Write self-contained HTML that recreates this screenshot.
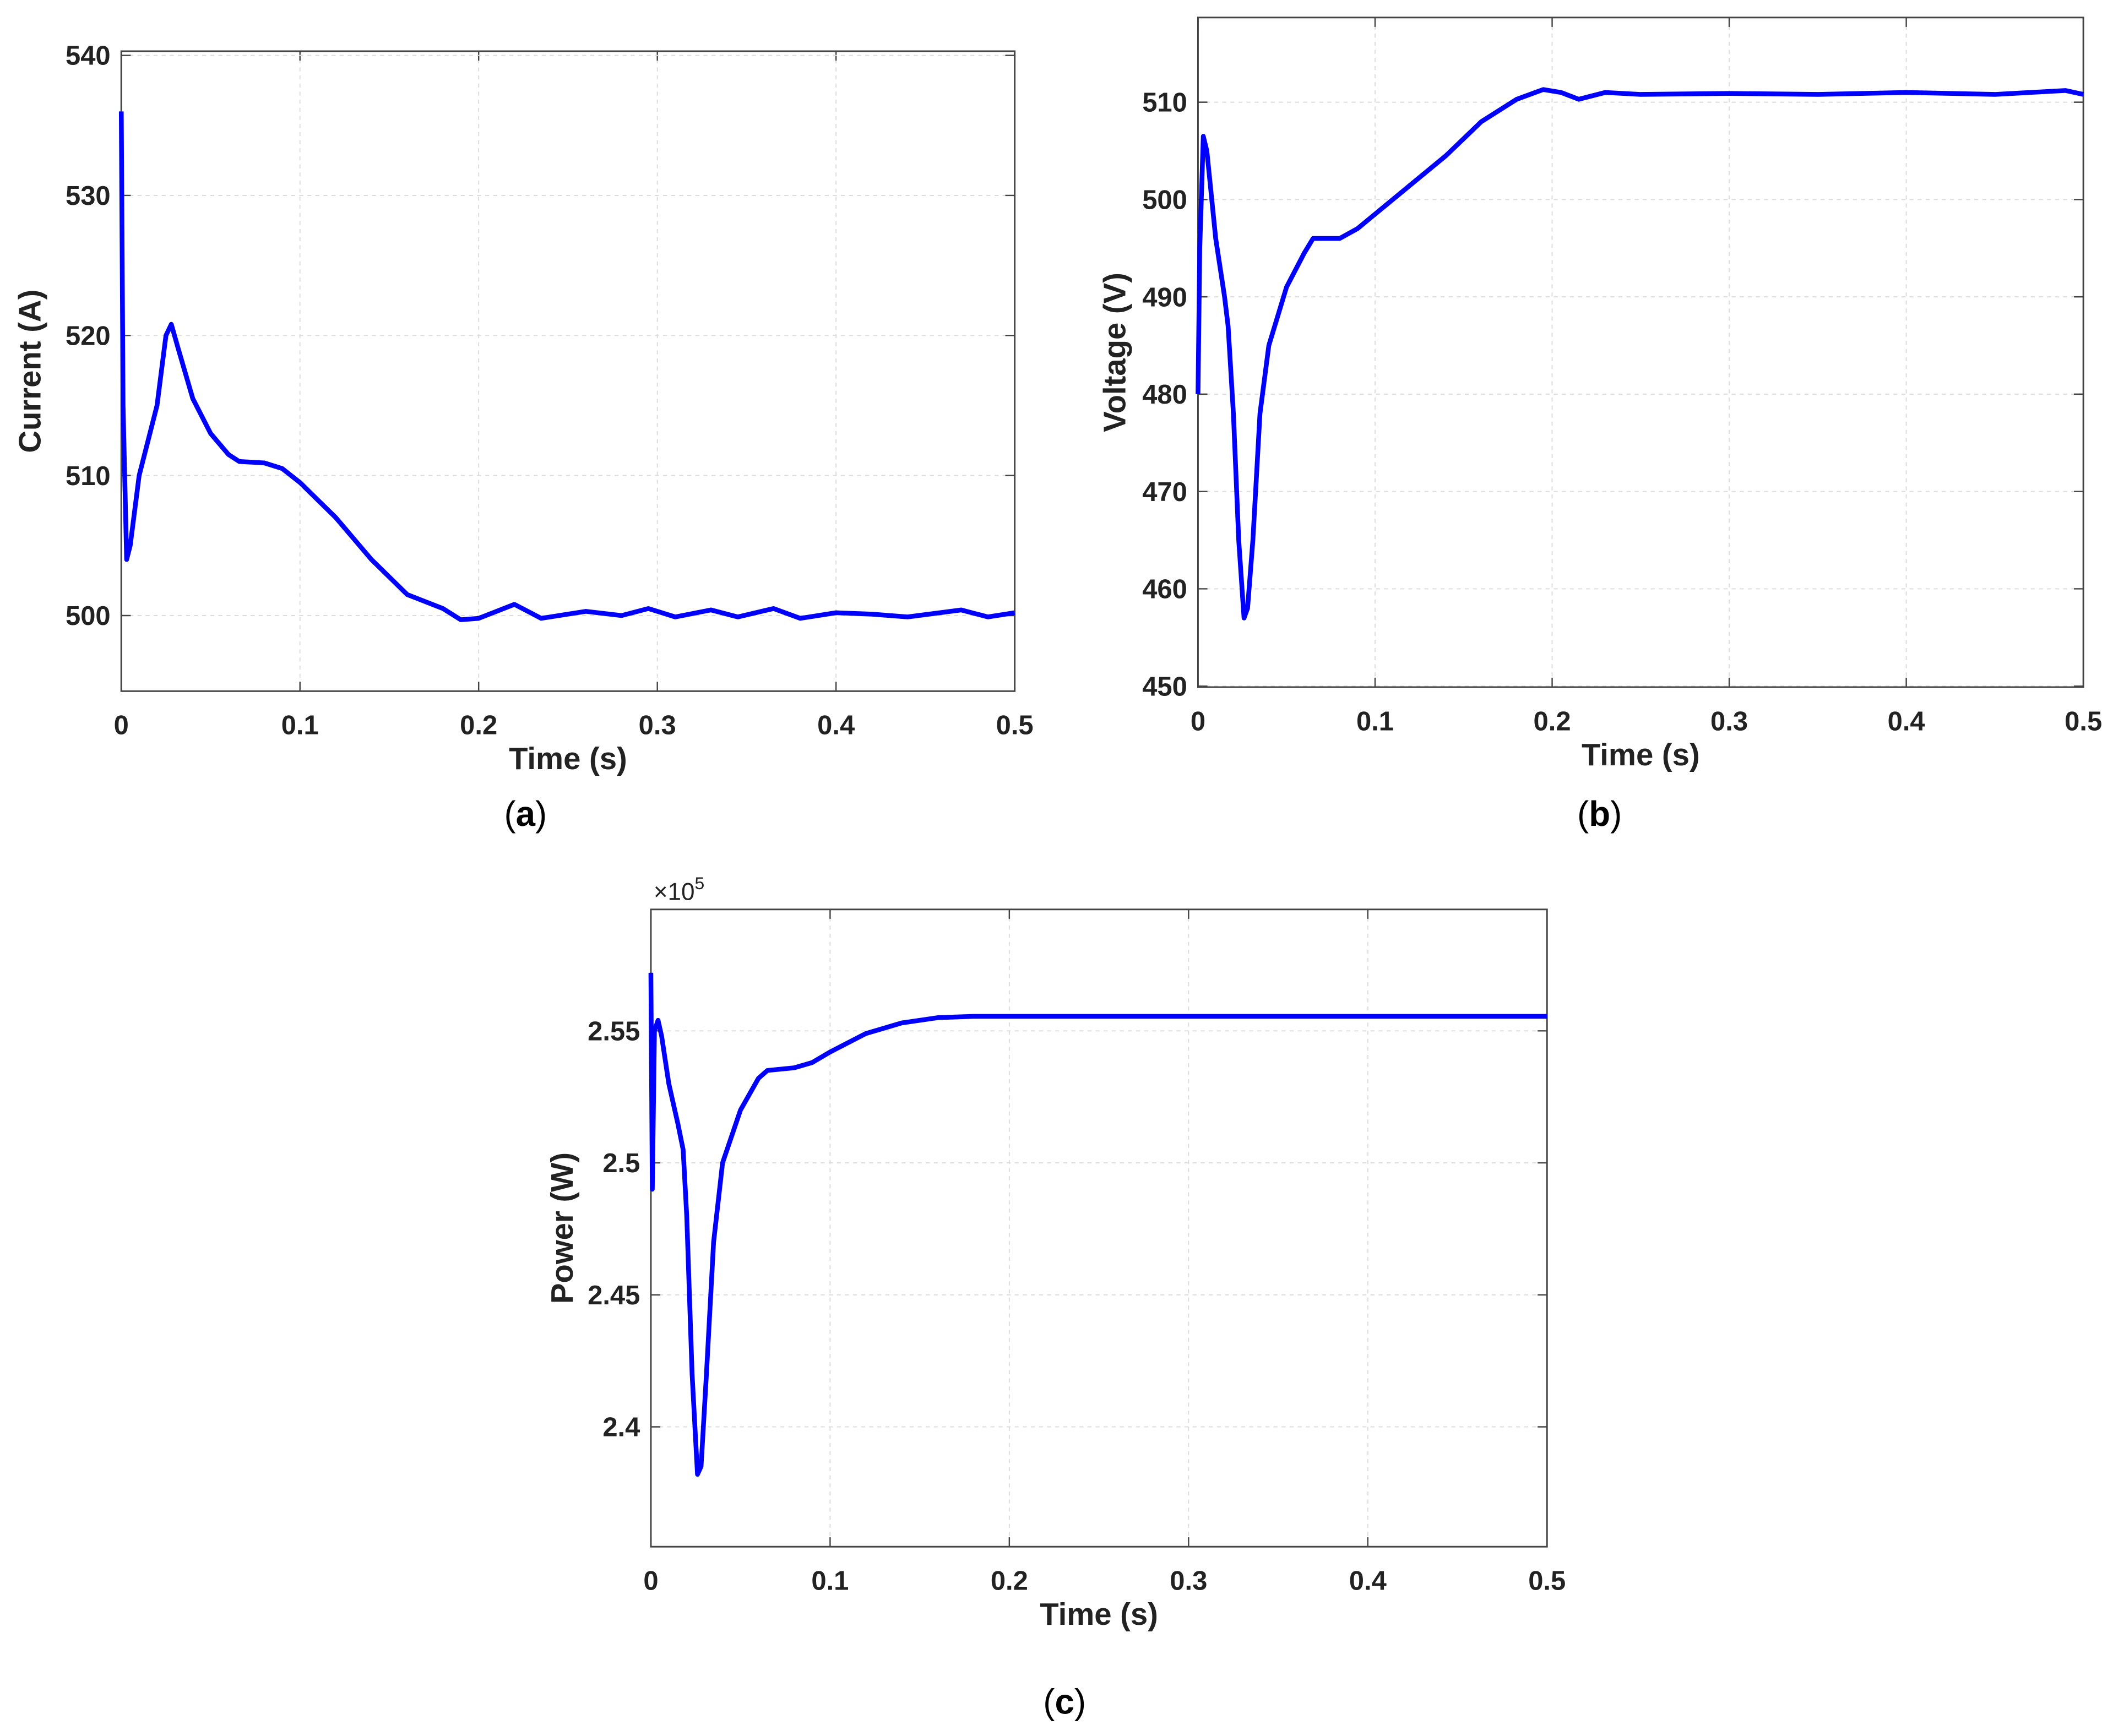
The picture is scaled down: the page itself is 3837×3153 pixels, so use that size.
<!DOCTYPE html>
<html><head><meta charset="utf-8"><style>
html,body{margin:0;padding:0;background:#fff;}
svg{display:block;}
text{font-family:"Liberation Sans",sans-serif;}
</style></head>
<body>
<svg id="fig" width="3837" height="3153" viewBox="0 0 1568 1288.5" preserveAspectRatio="none" xmlns="http://www.w3.org/2000/svg"></svg>
<script>
// Panel (a) current
const tA = [0,0.001,0.003,0.005,0.01,0.018,0.02,0.025,0.028,0.032,0.04,0.05,0.06,0.066,0.08,0.09,0.1,0.12,0.14,0.16,0.18,0.19,0.2,0.21,0.22,0.235,0.26,0.28,0.295,0.31,0.33,0.345,0.365,0.38,0.4,0.42,0.44,0.47,0.485,0.5];
const vA = [536,515,504,505,510,514,515,520,520.8,519,515.5,513,511.5,511,510.9,510.5,509.5,507,504,501.5,500.5,499.7,499.8,500.3,500.8,499.8,500.3,500,500.5,499.9,500.4,499.9,500.5,499.8,500.2,500.1,499.9,500.4,499.9,500.2];
// Panel (b) voltage
const tB = [0,0.001,0.003,0.005,0.01,0.015,0.017,0.02,0.023,0.026,0.028,0.031,0.035,0.04,0.05,0.06,0.065,0.07,0.08,0.09,0.1,0.12,0.14,0.16,0.18,0.195,0.205,0.215,0.23,0.25,0.3,0.35,0.4,0.45,0.49,0.5];
const vB = [480,495,506.5,505,496,490,487,478,465,457,458,465,478,485,491,494.5,496,496,496,497,498.5,501.5,504.5,508,510.3,511.3,511,510.3,511,510.8,510.9,510.8,511,510.8,511.2,510.8];
// Panel (c) power (x1e5)
const tC = [0,0.0008,0.002,0.004,0.006,0.01,0.015,0.018,0.02,0.023,0.026,0.028,0.031,0.035,0.04,0.05,0.06,0.065,0.08,0.09,0.1,0.12,0.14,0.16,0.18,0.5];
const vC = [2.572,2.49,2.55,2.554,2.548,2.53,2.515,2.505,2.48,2.42,2.382,2.385,2.42,2.47,2.50,2.52,2.532,2.535,2.536,2.538,2.542,2.549,2.553,2.555,2.5555,2.5555];
const xTicks = [0,0.1,0.2,0.3,0.4,0.5];
const xTickLabels = ["0","0.1","0.2","0.3","0.4","0.5"];
const yTicksA = [500,510,520,530,540];
const yTicksB = [450,460,470,480,490,500,510];
const yTicksC = [2.4,2.45,2.5,2.55];
const yTickLabelsC = ["2.4","2.45","2.5","2.55"];

const svg = document.getElementById('fig');
const NS = 'http://www.w3.org/2000/svg';
function mk(tag, attrs, parent){const e=document.createElementNS(NS,tag);for(const k in attrs)e.setAttribute(k,attrs[k]);(parent||svg).appendChild(e);return e;}

function panel(o){
  const g = mk('g',{});
  
  
  const X = t => o.l + (t-0)/(0.5)*(o.r-o.l);
  const Y = v => o.b - (v-o.ymin)/(o.ymax-o.ymin)*(o.b-o.t);
  // grid
  xTicks.forEach((t,i)=>{
    if(i>0 && i<xTicks.length-1){const gl=mk('line',{x1:X(t),x2:X(t),y1:o.t,y2:o.b,stroke:'#dcdcdc','stroke-width':0.8,'stroke-dasharray':'3,3'},g);
    }
    mk('line',{x1:X(t),x2:X(t),y1:o.b,y2:o.b-7,stroke:'#444','stroke-width':1},g);
    mk('line',{x1:X(t),x2:X(t),y1:o.t,y2:o.t+7,stroke:'#444','stroke-width':1},g);
    const tx=mk('text',{x:X(t),y:o.b+32,'text-anchor':'middle','font-size':20,'font-weight':'bold',fill:'#222'},g);
    tx.textContent=xTickLabels[i];
    
  });
  o.yt.forEach((v,i)=>{
    const gl=mk('line',{x1:o.l,x2:o.r,y1:Y(v),y2:Y(v),stroke:'#dcdcdc','stroke-width':0.8,'stroke-dasharray':'3,3'},g);
    
    mk('line',{x1:o.l,x2:o.l+7,y1:Y(v),y2:Y(v),stroke:'#444','stroke-width':1},g);
    mk('line',{x1:o.r,x2:o.r-7,y1:Y(v),y2:Y(v),stroke:'#444','stroke-width':1},g);
    const tx=mk('text',{x:o.l-8,y:Y(v)+7,'text-anchor':'end','font-size':20,'font-weight':'bold',fill:'#222'},g);
    tx.textContent=o.ytl?o.ytl[i]:String(v);
    
  });
  const fr=mk('rect',{x:o.l,y:o.t,width:o.r-o.l,height:o.b-o.t,fill:'none',stroke:'#444','stroke-width':1.2},g);
  
  const d=o.tx.map((t,i)=>(i?'L':'M')+X(t).toFixed(2)+','+Y(o.vy[i]).toFixed(2)).join(' ');
  const p=mk('path',{d:d,fill:'none',stroke:'#0000ff','stroke-width':3.5,'stroke-linejoin':'round'},g);
  
  const xl=mk('text',{x:(o.l+o.r)/2,y:o.b+58,'text-anchor':'middle','font-size':23,'font-weight':'bold',fill:'#222'},g);
  xl.textContent='Time (s)';
  
  const yl=mk('text',{x:0,y:0,transform:`translate(${o.ylx},${(o.t+o.b)/2}) rotate(-90)`,'text-anchor':'middle','font-size':23,'font-weight':'bold',fill:'#222'},g);
  yl.textContent=o.ylabel;
  
  const cap=mk('text',{x:o.capx,y:o.capy,'text-anchor':'middle','font-size':26,fill:'#000','font-family':'Liberation Serif, serif'},g);
  cap.innerHTML='(<tspan font-weight="bold">'+o.cap+'</tspan>)';
  
  return {g,X,Y};
}
panel({name:'current-panel',l:90,r:753,t:38,b:513,ymin:494.6,ymax:540.3,yt:yTicksA,tx:tA,vy:vA,ylabel:'Current (A)',ylx:30,cap:'a',capx:390,capy:613});
panel({name:'voltage-panel',l:889,r:1546,t:13,b:510,ymin:449.9,ymax:518.7,yt:yTicksB,tx:tB,vy:vB,ylabel:'Voltage (V)',ylx:835,cap:'b',capx:1187,capy:613});
const pc=panel({name:'power-panel',l:483,r:1148,t:675,b:1148,ymin:2.3546,ymax:2.596,yt:yTicksC,ytl:yTickLabelsC,tx:tC,vy:vC,ylabel:'Power (W)',ylx:425,cap:'c',capx:790,capy:1272});
const ex=mk('text',{x:485,y:668,'font-size':18,fill:'#222'});
ex.innerHTML='×10<tspan dy="-8" font-size="13">5</tspan>';


</script>
</body></html>
